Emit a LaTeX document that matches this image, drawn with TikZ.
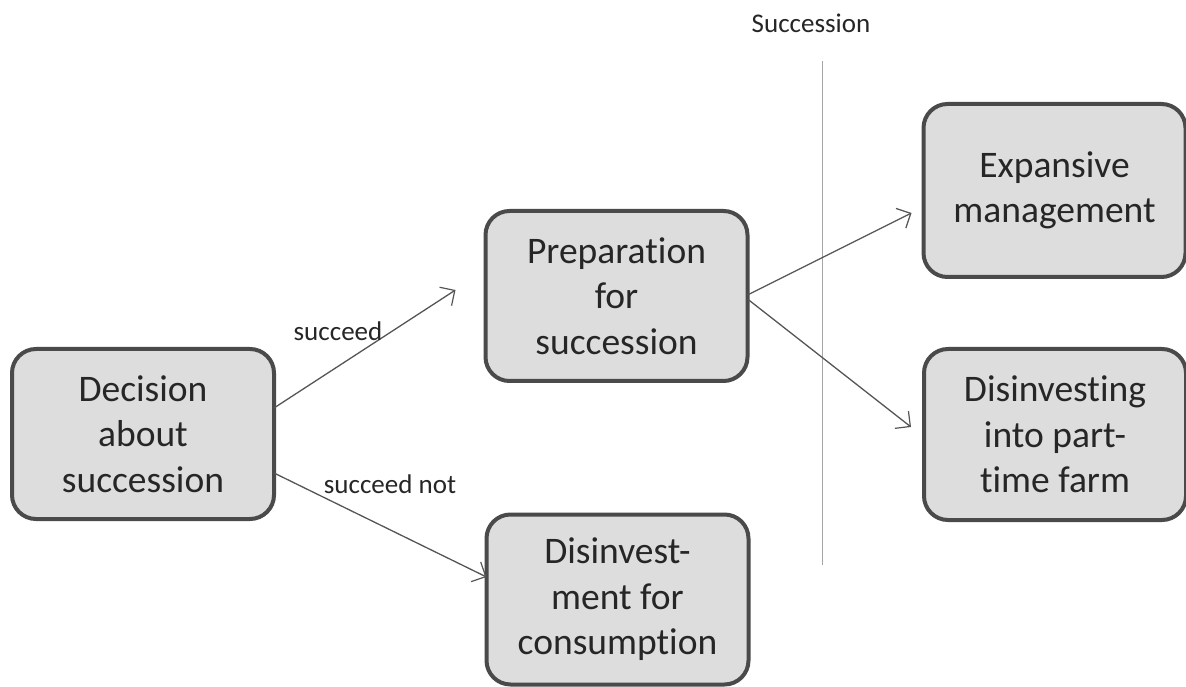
\documentclass[tikz,border=0pt]{standalone}
\usepackage{fontspec}
\setmainfont{Carlito}[Ligatures=NoCommon]
\usetikzlibrary{arrows.meta,calc}
\definecolor{boxfill}{HTML}{DDDDDD}
\definecolor{boxline}{HTML}{4A4A4A}
\definecolor{txt}{HTML}{262626}
\definecolor{arrcol}{HTML}{555555}
\tikzset{
  box/.style={draw=boxline, line width=4pt, fill=boxfill, rounded corners=24pt,
    minimum width=262pt, minimum height=170pt, inner sep=0pt, outer sep=0pt,
    align=center, text=txt,
    font=\fontsize{37.5}{45.5}\selectfont},
  conn/.style={draw=arrcol, line width=1.3pt, -{Straight Barb[length=11pt,width=22pt,line width=1.2pt]}},
  lbl/.style={text=txt, font=\fontsize{27}{32}\selectfont, anchor=base, inner sep=0pt},
  divider/.style={draw=gray!70, line width=1pt}
}
\begin{document}
\begin{tikzpicture}[x=1pt,y=1pt]
\useasboundingbox (0,0) rectangle (1186,686);
\node[box] (dec)  at (143,252)    {Decision\\about\\succession};
\node[box] (prep) at (616.5,390)  {Preparation\\for\\succession};
\node[box] (cons) at (617.5,86.5) {Disinvest-\\ment for\\consumption};
\node[box, minimum height=173pt] (exp)  at (1054.5,495.5) {Expansive\\management};
\node[box, minimum height=171pt] (dis)  at (1055,251.5)   {Disinvesting\\into part-\\time farm};

\coordinate (vtop) at (822,625);
\coordinate (vbot) at (822,121);
\draw[divider] (vtop) -- (vbot);
\node[lbl] (succlbl) at (811,653) {Succession};

\draw[conn] ([yshift=26pt]dec.east) -- ([shift={(-30pt,6pt)}]prep.west);
\draw[conn] ([yshift=-39pt]dec.east) -- ([yshift=22.5pt]cons.west);
\draw[conn] ([yshift=1pt]prep.east) -- ([shift={(-12pt,-22.5pt)}]exp.west);
\draw[conn] ([yshift=-3pt]prep.east) -- ([shift={(-13pt,7.5pt)}]dis.west);

\node[lbl] (l1) at (338,345) {succeed};
\node[lbl] (l2) at (390,193) {succeed not};
\end{tikzpicture}
\end{document}
